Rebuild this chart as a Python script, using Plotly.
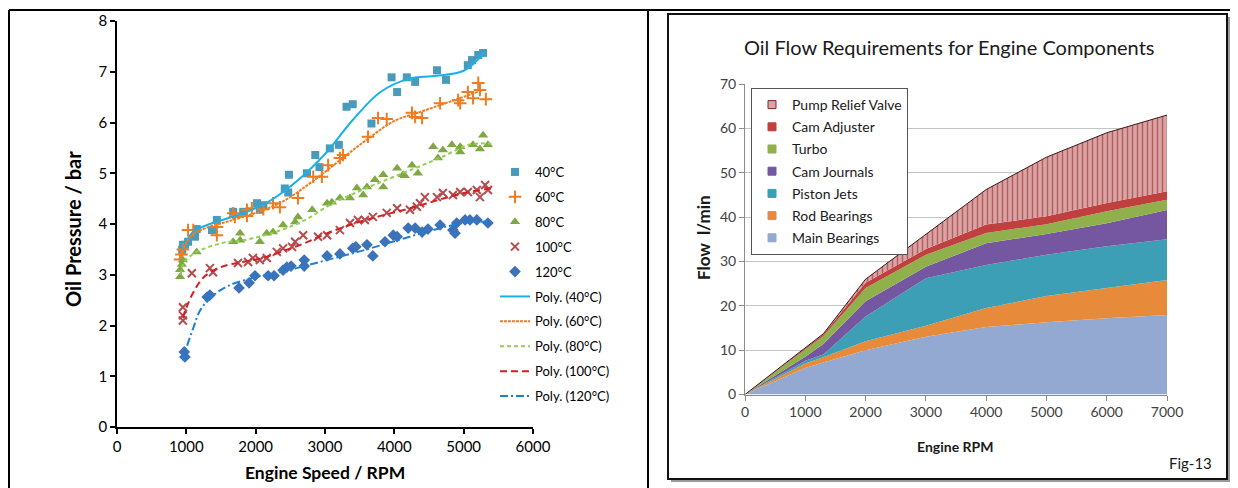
import plotly.graph_objects as go

# The page body has an 8px margin, so the figure is drawn 8px in from the top-left
OX, OY = 8, 8
FW, FH = 1230, 480
def px(x): return (x - OX) / FW
def py(y): return 1 - (y - OY) / FH

# ---------------- Left chart data (Oil pressure vs engine speed) ----------------
t40_x = [940, 950, 980, 1025, 1125, 1150, 1370, 1440, 1675, 1820, 2020, 2060, 2110, 2420, 2470, 2480, 2740,
         2860, 2920, 3070, 3200, 3310, 3400, 3670, 3960, 4040, 4180, 4300, 4615, 4745, 5060, 5120, 5210, 5280]
t40_y = [3.49, 3.59, 3.59, 3.65, 3.75, 3.9, 3.88, 4.08, 4.24, 4.24, 4.41, 4.28, 4.37, 4.7, 4.62, 4.97, 5.0,
         5.36, 5.12, 5.49, 5.56, 6.31, 6.36, 5.98, 6.89, 6.6, 6.89, 6.8, 7.03, 6.84, 7.13, 7.23, 7.33, 7.37]

t60_x = [910, 930, 950, 1025, 1100, 1440, 1440, 1675, 1700, 1875, 1875, 1945, 2110, 2250, 2350, 2610, 2830,
         2955, 3045, 3215, 3260, 3620, 3765, 3890, 4255, 4300, 4400, 4660, 4920, 4950, 5060, 5135, 5210, 5235, 5320]
t60_y = [3.3, 3.4, 3.5, 3.88, 3.88, 3.94, 3.78, 4.21, 4.14, 4.28, 4.16, 4.31, 4.29, 4.41, 4.33, 4.51, 4.93,
         4.93, 5.16, 5.3, 5.36, 5.72, 6.09, 6.07, 6.19, 6.11, 6.09, 6.38, 6.44, 6.38, 6.6, 6.48, 6.78, 6.64, 6.46]

t80_x = [910, 910, 935, 950, 1150, 1675, 1775, 1775, 2060, 2160, 2250, 2395, 2570, 2610, 2815, 3030, 3100,
         3215, 3360, 3460, 3550, 3605, 3720, 3840, 3840, 4040, 4150, 4255, 4125, 4340, 4560, 4630, 4700, 4830,
         4950, 4950, 5135, 5235, 5280, 5350]
t80_y = [2.96, 3.1, 3.2, 3.29, 3.45, 3.65, 3.82, 3.68, 3.65, 3.82, 3.84, 3.98, 4.04, 4.14, 4.28, 4.41, 4.43,
         4.51, 4.51, 4.71, 4.57, 4.73, 4.87, 4.97, 4.73, 5.1, 4.95, 5.16, 4.97, 5.0, 5.52, 5.3, 5.46, 5.56,
         5.52, 5.42, 5.56, 5.48, 5.75, 5.56]

t100_x = [950, 950, 950, 1080, 1340, 1385, 1745, 1890, 1960, 2060, 2160, 2305, 2395, 2525, 2570, 2685, 2900,
          3030, 3215, 3360, 3475, 3575, 3690, 3890, 4040, 4225, 4325, 4370, 4440, 4615, 4700, 4845, 4950, 5060,
          5190, 5235, 5310, 5350]
t100_y = [2.2, 2.1, 2.36, 3.03, 3.13, 3.05, 3.23, 3.25, 3.33, 3.29, 3.33, 3.45, 3.52, 3.55, 3.65, 3.78, 3.75,
          3.78, 3.88, 4.02, 4.08, 4.08, 4.14, 4.22, 4.31, 4.28, 4.34, 4.41, 4.53, 4.53, 4.61, 4.57, 4.63, 4.63,
          4.67, 4.53, 4.77, 4.67]

t120_x = [970, 980, 1300, 1340, 1760, 1905, 1990, 2180, 2265, 2395, 2450, 2510, 2700, 2700, 3030, 3215, 3400,
          3445, 3605, 3690, 3865, 3985, 4040, 4200, 4300, 4400, 4485, 4660, 4845, 4875, 4900, 5020, 5090, 5190, 5350]
t120_y = [1.48, 1.38, 2.56, 2.6, 2.74, 2.84, 2.98, 2.98, 2.98, 3.09, 3.15, 3.17, 3.17, 3.29, 3.37, 3.41, 3.52,
          3.55, 3.59, 3.37, 3.65, 3.78, 3.75, 3.92, 3.92, 3.84, 3.9, 3.98, 3.88, 3.82, 4.02, 4.08, 4.08, 4.08, 4.02]

# Polynomial trendlines
fit40_x = [950, 1000, 1100, 1400, 1800, 2200, 2600, 3000, 3400, 3800, 4200, 4600, 5000, 5300]
fit40_y = [3.5, 3.65, 3.85, 4.03, 4.2, 4.45, 4.85, 5.38, 6.05, 6.6, 6.86, 6.92, 7.02, 7.38]
fit60_x = [900, 950, 1000, 1100, 1300, 1600, 2000, 2400, 2800, 3200, 3600, 4000, 4400, 4800, 5300]
fit60_y = [3.3, 3.45, 3.62, 3.8, 3.93, 4.05, 4.22, 4.45, 4.82, 5.24, 5.66, 6.03, 6.22, 6.41, 6.65]
fit80_x = [920, 950, 1000, 1150, 1500, 1900, 2300, 2700, 3100, 3500, 3900, 4300, 4700, 5100, 5400]
fit80_y = [3.0, 3.2, 3.3, 3.45, 3.62, 3.7, 3.85, 4.07, 4.4, 4.65, 4.88, 5.1, 5.33, 5.57, 5.58]
fit100_x = [950, 1000, 1100, 1250, 1500, 1800, 2100, 2400, 2700, 3000, 3400, 3800, 4200, 4600, 5000, 5400]
fit100_y = [2.15, 2.35, 2.65, 2.95, 3.15, 3.25, 3.33, 3.47, 3.62, 3.8, 4.0, 4.16, 4.3, 4.46, 4.61, 4.7]
fit120_x = [960, 1000, 1100, 1200, 1350, 1600, 2000, 2500, 3000, 3500, 4000, 4500, 5000, 5400]
fit120_y = [1.3, 1.55, 1.95, 2.3, 2.55, 2.78, 2.95, 3.1, 3.28, 3.46, 3.66, 3.86, 4.02, 4.05]

# ---------------- Right chart data (oil flow requirements, l/min) ----------------
rpm = [0, 1000, 1300, 2000, 3000, 4000, 5000, 6000, 7000]
main_bearings = [0, 6.0, 7.2, 10.0, 13.0, 15.2, 16.3, 17.2, 17.9]
rod_bearings = [0, 1.0, 1.2, 2.0, 2.5, 4.3, 5.9, 6.8, 7.9]
piston_jets = [0, 0.6, 0.6, 5.6, 10.7, 9.7, 9.3, 9.4, 9.2]
cam_journals = [0, 0.9, 2.4, 3.4, 2.6, 4.9, 4.7, 5.2, 6.6]
turbo = [0, 1.7, 1.8, 3.0, 2.7, 2.3, 2.2, 2.7, 2.3]
cam_adjuster = [0, 0.3, 0.4, 1.2, 1.3, 1.9, 1.8, 1.9, 1.9]
pump_relief = [0, 0.0, 0.1, 0.8, 3.4, 7.9, 13.3, 15.8, 17.2]

FONT = "Lato, 'Open Sans', sans-serif"

fig = go.Figure()

# ---- left scatter series ----
marker_series = [
    ("40°C", t40_x, t40_y, dict(symbol="square", size=8, color="#4a9bbb")),
    ("60°C", t60_x, t60_y, dict(symbol="cross-thin", size=9, color="#f07c21",
                                line=dict(width=2, color="#f07c21"))),
    ("80°C", t80_x, t80_y, dict(symbol="triangle-up", size=9, color="#7fa744")),
    ("100°C", t100_x, t100_y, dict(symbol="x-thin", size=8, color="#b44b4f",
                                  line=dict(width=2, color="#b44b4f"))),
    ("120°C", t120_x, t120_y, dict(symbol="diamond", size=9, color="#3d72b8")),
]
for i, (name, xs, ys, mk) in enumerate(marker_series):
    fig.add_trace(go.Scatter(x=xs, y=ys, mode="markers", name=name, marker=mk,
                             xaxis="x", yaxis="y", legend="legend", legendgroup=f"l{i}"))

fit_series = [
    ("Poly. (40°C)", fit40_x, fit40_y, dict(color="#1ab1ea", width=2, dash="solid")),
    ("Poly. (60°C)", fit60_x, fit60_y, dict(color="#f07c21", width=2, dash="3px,1px")),
    ("Poly. (80°C)", fit80_x, fit80_y, dict(color="#92d050", width=2, dash="4px,3px")),
    ("Poly. (100°C)", fit100_x, fit100_y, dict(color="#d42020", width=2, dash="7px,4px")),
    ("Poly. (120°C)", fit120_x, fit120_y, dict(color="#1f7fd4", width=2, dash="8px,3px,2px,3px")),
]
for i, (name, xs, ys, ln) in enumerate(fit_series):
    fig.add_trace(go.Scatter(x=xs, y=ys, mode="lines", name=name, line=dict(shape="spline", **ln),
                             xaxis="x", yaxis="y", legend="legend", legendgroup=f"l{i+5}"))

# ---- right stacked area ----
areas = [
    ("Main Bearings", main_bearings, "#93a9d1"),
    ("Rod Bearings", rod_bearings, "#e78b3a"),
    ("Piston Jets", piston_jets, "#3c9fb5"),
    ("Cam Journals", cam_journals, "#7457a0"),
    ("Turbo", turbo, "#8fb04b"),
    ("Cam Adjuster", cam_adjuster, "#c0403f"),
]
for name, vals, col in areas:
    fig.add_trace(go.Scatter(x=rpm, y=vals, name=name, mode="lines", stackgroup="flow",
                             line=dict(width=0, color=col), fillcolor=col,
                             xaxis="x2", yaxis="y2", showlegend=False))
fig.add_trace(go.Scatter(x=rpm, y=pump_relief, name="Pump Relief Valve", mode="lines", stackgroup="flow",
                         line=dict(width=1, color="#3a1a1a"), fillcolor="#dba3a3",
                         fillpattern=dict(shape="|", bgcolor="#dba3a3", fgcolor="#8a1c1c",
                                          size=5, solidity=0.3),
                         xaxis="x2", yaxis="y2", showlegend=False))

# legend entries for right chart (top to bottom)
legend_items = [
    ("Pump Relief Valve", "#dba3a3", "#7a2a2a"),
    ("Cam Adjuster", "#c0403f", "#c0403f"),
    ("Turbo", "#8fb04b", "#8fb04b"),
    ("Cam Journals", "#7457a0", "#7457a0"),
    ("Piston Jets", "#3c9fb5", "#3c9fb5"),
    ("Rod Bearings", "#e78b3a", "#e78b3a"),
    ("Main Bearings", "#93a9d1", "#93a9d1"),
]
for i, (name, col, lc) in enumerate(legend_items):
    fig.add_trace(go.Scatter(x=[None], y=[None], mode="markers", name=name,
                             marker=dict(symbol="square", size=8, color=col, line=dict(width=1, color=lc)),
                             xaxis="x2", yaxis="y2", legend="legend2", legendgroup=f"r{i}"))

axis_common = dict(showgrid=False, zeroline=False, showline=True, ticks="outside")

fig.update_layout(
    width=FW, height=FH, autosize=False,
    margin=dict(l=0, r=0, t=0, b=0, pad=0, autoexpand=False),
    paper_bgcolor="white", plot_bgcolor="rgba(0,0,0,0)",
    font=dict(family=FONT, color="#000000"),
    xaxis=dict(domain=[px(117), px(533)], range=[0, 6000], dtick=1000, anchor="y",
               linecolor="#000000", linewidth=1.5, tickcolor="#000000", ticklen=5, tickwidth=1.5,
               tickfont=dict(size=15, color="#000000"), **axis_common),
    yaxis=dict(domain=[py(427), py(21)], range=[0, 8], dtick=1, anchor="x",
               linecolor="#000000", linewidth=1.5, tickcolor="#000000", ticklen=5, tickwidth=1.5,
               tickfont=dict(size=15, color="#000000"), **axis_common),
    xaxis2=dict(domain=[px(745), px(1167)], range=[0, 7000], dtick=1000, anchor="y2",
                showgrid=False, zeroline=False, showline=True, ticks="outside",
                linecolor="#8c8c8c", linewidth=1, tickcolor="#8c8c8c", ticklen=5,
                tickfont=dict(size=14, color="#404040")),
    yaxis2=dict(domain=[py(394.5), py(84)], range=[0, 70], dtick=10, anchor="x2",
                showgrid=True, gridcolor="#c4c4c4", gridwidth=1, zeroline=False,
                showline=True, ticks="outside",
                linecolor="#8c8c8c", linewidth=1, tickcolor="#8c8c8c", ticklen=5,
                tickfont=dict(size=14, color="#404040")),
    legend=dict(x=px(495), y=py(157), xanchor="left", yanchor="top",
                bgcolor="rgba(0,0,0,0)", borderwidth=0, tracegroupgap=5,
                font=dict(size=13, color="#000000", family=FONT)),
    legend2=dict(x=px(751), y=py(88), xanchor="left", yanchor="top",
                 bgcolor="white", bordercolor="#555555", borderwidth=1, tracegroupgap=1,
                 font=dict(size=14, color="#1a1a1a", family=FONT)),
    showlegend=True,
)

annotations = [
    dict(text="<b>Oil Pressure / bar</b>", x=px(73), y=py(229), textangle=-90, font=dict(size=20)),
    dict(text="<b>Engine Speed / RPM</b>", x=px(325), y=py(472), font=dict(size=17.5)),
    dict(text="Oil Flow Requirements for Engine Components", x=px(949), y=py(47),
         font=dict(size=20, color="#1a1a1a")),
    dict(text="<b>Flow\u00a0\u00a0l/min</b>", x=px(703), y=py(238), textangle=-90,
         font=dict(size=17, color="#1a1a1a")),
    dict(text="<b>Engine RPM</b>", x=px(955), y=py(446), font=dict(size=14, color="#1a1a1a")),
    dict(text="Fig-13", x=px(1190), y=py(463), font=dict(size=15, color="#1a1a1a")),
]
for a in annotations:
    a.update(xref="paper", yref="paper", showarrow=False, xanchor="center", yanchor="middle")
fig.update_layout(annotations=annotations)

shapes = [
    # right chart frame with shadow
    dict(type="rect", x0=px(671), y0=py(17), x1=px(1230), y1=py(482), fillcolor="#9a9a9a",
         line=dict(width=0), layer="below"),
    dict(type="rect", x0=px(668), y0=py(14), x1=px(1227), y1=py(479), fillcolor="white",
         line=dict(width=2, color="#111111"), layer="below"),
    # table borders
    dict(type="line", x0=px(9), y0=py(10), x1=px(1235), y1=py(10), line=dict(width=2, color="#000000")),
    dict(type="line", x0=px(9), y0=py(10), x1=px(9), y1=py(488), line=dict(width=2, color="#000000")),
    dict(type="line", x0=px(648), y0=py(10), x1=px(648), y1=py(488), line=dict(width=2, color="#000000")),
    dict(type="line", x0=px(1235), y0=py(10), x1=px(1235), y1=py(488), line=dict(width=2, color="#000000")),
]
for s in shapes:
    s.update(xref="paper", yref="paper")
fig.update_layout(shapes=shapes)

fig.write_html("out.html")
